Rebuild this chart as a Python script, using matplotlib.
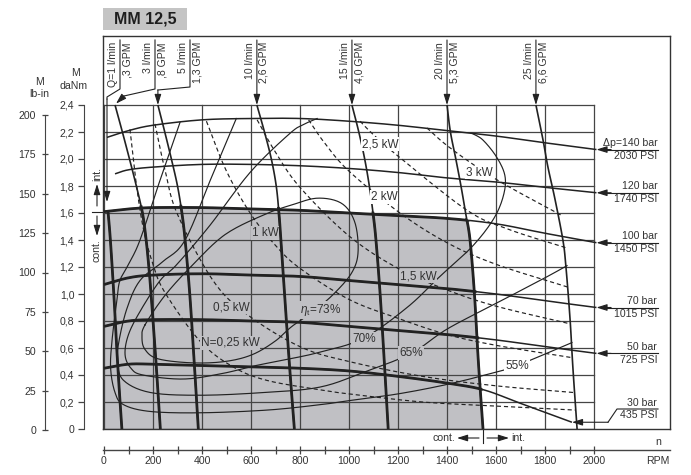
import numpy as np
import matplotlib
matplotlib.use("Agg")
import matplotlib.pyplot as plt
from matplotlib.patches import Polygon, Rectangle
from matplotlib.path import Path

plt.rcParams['font.family'] = ['Liberation Sans', 'DejaVu Sans']
plt.rcParams['mathtext.fontset'] = 'custom'
plt.rcParams['mathtext.rm'] = 'Liberation Sans'
plt.rcParams['mathtext.it'] = 'Liberation Sans:italic'

# ---------------- values ----------------
TITLE = "MM 12,5"
GRID_RPM = [0, 200, 400, 600, 800, 1000, 1200, 1400, 1600, 1800, 2000]
GRID_DANM = [0, 0.2, 0.4, 0.6, 0.8, 1.0, 1.2, 1.4, 1.6, 1.8, 2.0, 2.2, 2.4]
X_TICKS = [0, 200, 400, 600, 800, 1000, 1200, 1400, 1600, 1800, 2000]
X_MINOR = [100, 300, 500, 700, 900, 1100, 1300, 1500, 1700, 1900]
X_LABELS = ["0", "200", "400", "600", "800", "1000", "1200", "1400", "1600", "1800", "2000"]
DANM_LABELS = ["0", "0,2", "0,4", "0,6", "0,8", "1,0", "1,2", "1,4", "1,6", "1,8", "2,0", "2,2", "2,4"]
LBIN_TICKS = [0, 25, 50, 75, 100, 125, 150, 175, 200]
LBIN_LABELS = ["0", "25", "50", "75", "100", "125", "150", "175", "200"]

# pressure curves (torque vs speed)
P140_RPM = [12, 100, 200, 400, 600, 800, 1000, 1200, 1400, 1600, 1800, 2010]
P140_M = [2.16, 2.21, 2.25, 2.29, 2.30, 2.30, 2.28, 2.25, 2.21, 2.17, 2.12, 2.07]
P120_RPM = [45, 100, 200, 400, 600, 800, 1000, 1200, 1400, 1600, 1800, 2010]
P120_M = [1.89, 1.92, 1.94, 1.96, 1.96, 1.95, 1.93, 1.90, 1.86, 1.83, 1.79, 1.75]
P100_RPM = [0, 100, 200, 400, 600, 800, 1000, 1200, 1400, 1600, 1800, 2010]
P100_M = [1.61, 1.63, 1.64, 1.64, 1.63, 1.62, 1.60, 1.58, 1.56, 1.52, 1.45, 1.38]
P70_RPM = [0, 100, 200, 400, 600, 800, 1000, 1200, 1400, 1600, 1800, 2010]
P70_M = [1.07, 1.12, 1.14, 1.15, 1.14, 1.13, 1.10, 1.07, 1.04, 1.00, 0.95, 0.90]
P50_RPM = [0, 100, 200, 400, 600, 800, 1000, 1200, 1400, 1600, 1800, 2010]
P50_M = [0.76, 0.80, 0.81, 0.81, 0.80, 0.79, 0.76, 0.73, 0.70, 0.66, 0.61, 0.56]
P30_RPM = [0, 100, 200, 400, 600, 800, 1000, 1200, 1400, 1550, 1700, 1910]
P30_M = [0.45, 0.48, 0.48, 0.47, 0.46, 0.45, 0.43, 0.39, 0.34, 0.29, 0.19, 0.05]
PRESS_BAR = ["\u0394p=140 bar", "120 bar", "100 bar", "70 bar", "50 bar", "30 bar"]
PRESS_PSI = ["2030 PSI", "1740 PSI", "1450 PSI", "1015 PSI", "725 PSI", "435 PSI"]

# flow curves (speed vs torque)
Q1_M = [1.62, 1.40, 1.00, 0.60, 0.30, 0.00]
Q1_RPM = [16, 26, 40, 52, 62, 73]
Q3_M = [2.40, 2.20, 2.00, 1.80, 1.60, 1.40, 1.20, 1.00, 0.50, 0.00]
Q3_RPM = [45, 75, 104, 132, 157, 172, 183, 192, 212, 230]
Q5_M = [2.40, 2.20, 2.00, 1.80, 1.60, 1.40, 1.00, 0.50, 0.00]
Q5_RPM = [220, 248, 275, 300, 318, 331, 350, 368, 385]
Q10_M = [2.40, 2.20, 2.00, 1.80, 1.60, 1.40, 1.00, 0.50, 0.00]
Q10_RPM = [624, 655, 683, 703, 714, 722, 737, 756, 777]
Q15_M = [2.40, 2.20, 2.00, 1.80, 1.60, 1.40, 1.00, 0.50, 0.00]
Q15_RPM = [1012, 1040, 1064, 1083, 1098, 1110, 1127, 1144, 1160]
Q20_M = [2.40, 2.20, 2.00, 1.80, 1.60, 1.40, 1.00, 0.50, 0.00]
Q20_RPM = [1400, 1414, 1436, 1457, 1476, 1494, 1512, 1528, 1547]
Q25_M = [2.40, 2.14, 1.94, 1.70, 1.40, 1.21, 0.82, 0.45, 0.00]
Q25_RPM = [1763, 1792, 1812, 1841, 1873, 1885, 1902, 1914, 1931]
FLOW_LPM = ["Q=1 l/min", "3 l/min", "5 l/min", "10 l/min", "15 l/min", "20 l/min", "25 l/min"]
FLOW_GPM = [",3 GPM", ",8 GPM", "1,3 GPM", "2,6 GPM", "4,0 GPM", "5,3 GPM", "6,6 GPM"]

# power curves (dashed)
N025_RPM = [106, 130, 160, 200, 249, 392, 527, 665, 882, 1000, 1300, 1600, 1925]
N025_M = [2.22, 1.84, 1.49, 1.22, 1.01, 0.65, 0.46, 0.36, 0.29, 0.26, 0.20, 0.17, 0.14]
N05_RPM = [208, 250, 300, 445, 583, 800, 1000, 1300, 1600, 1918]
N05_M = [2.26, 1.91, 1.59, 1.10, 0.85, 0.61, 0.50, 0.39, 0.32, 0.27]
N1_RPM = [418, 500, 600, 700, 800, 1000, 1200, 1400, 1600, 1905]
N1_M = [2.28, 1.91, 1.59, 1.36, 1.19, 0.96, 0.82, 0.70, 0.62, 0.53]
N15_RPM = [625, 700, 800, 1000, 1200, 1400, 1600, 1900]
N15_M = [2.29, 2.05, 1.79, 1.43, 1.19, 1.03, 0.91, 0.78]
N2_RPM = [835, 900, 1000, 1208, 1400, 1600, 1895]
N2_M = [2.29, 2.12, 1.91, 1.60, 1.38, 1.22, 1.05]
N25_RPM = [1045, 1100, 1208, 1482, 1650, 1890]
N25_M = [2.28, 2.18, 2.01, 1.62, 1.48, 1.34]
N3_RPM = [1318, 1400, 1531, 1657, 1870]
N3_M = [2.23, 2.10, 1.93, 1.79, 1.58]
POWER_LABELS = ["N=0,25 kW", "0,5 kW", "1 kW", "1,5 kW", "2 kW", "2,5 kW", "3 kW"]
POWER_LABEL_RPM = [514, 518, 657, 1282, 1143, 1127, 1531]
POWER_LABEL_M = [0.64, 0.90, 1.45, 1.13, 1.72, 2.11, 1.90]

# total efficiency curves
E73_RPM = [167, 249, 359, 494, 657, 767, 873, 971, 1024, 1037, 1012, 943, 861, 767,
           698, 604, 494, 359, 220, 167, 155]
E73_M = [0.77, 0.99, 1.21, 1.44, 1.59, 1.66, 1.71, 1.67, 1.53, 1.31, 1.16, 1.01, 0.88, 0.76,
         0.65, 0.55, 0.50, 0.49, 0.52, 0.59, 0.68]
E70_RPM = [870, 820, 759, 596, 433, 298, 229, 150, 100, 86, 110, 159, 322, 480, 620, 760,
           882, 1057, 1237, 1371, 1502, 1588, 1629, 1637, 1604, 1547, 1502]
E70_M = [2.30, 2.26, 2.19, 1.90, 1.51, 1.22, 1.10, 0.88, 0.70, 0.55, 0.45, 0.40, 0.37, 0.41,
         0.47, 0.52, 0.57, 0.67, 0.90, 1.13, 1.35, 1.55, 1.72, 1.87, 2.01, 2.14, 2.19]
E65_RPM = [540, 440, 331, 240, 147, 95, 62, 55, 80, 190, 392, 650, 880, 1060, 1253, 1400,
           1600, 1800, 1890]
E65_M = [2.30, 1.87, 1.40, 1.24, 1.10, 0.90, 0.66, 0.50, 0.36, 0.27, 0.25, 0.27, 0.31, 0.42,
         0.56, 0.74, 0.93, 1.12, 1.21]
E55_RPM = [310, 230, 147, 100, 65, 53, 33, 27, 45, 80, 188, 392, 665, 882, 1000, 1200, 1400,
           1576, 1686, 1910]
E55_M = [2.27, 1.85, 1.40, 1.22, 1.10, 0.96, 0.66, 0.45, 0.27, 0.18, 0.13, 0.12, 0.14, 0.18,
         0.21, 0.26, 0.33, 0.41, 0.47, 0.64]
EFF_LABELS = [r"$\eta_{\rm t}$=73%", "70%", "65%", "55%"]
EFF_LABEL_RPM = [882, 1062, 1253, 1686]
EFF_LABEL_M = [0.88, 0.67, 0.56, 0.47]

# ---------------- layout helpers (pixels of the 691x475 canvas) ----------------
W, H = 691, 475
PX_PER_RPM = 0.245
PX_PER_DANM = 135.0
X_PX0, Y_PX0 = 104, 429      # pixel of (0 rpm, 0 daNm)

def fx(px):
    return px / W

def fy(py):
    return 1 - py / H

def rpm_at(px):
    return (px - X_PX0) / PX_PER_RPM

def m_at(py):
    return (Y_PX0 - py) / PX_PER_DANM

def smooth(x, y, n=14, closed=False):
    P = np.column_stack([x, y]).astype(float)
    if closed:
        P = np.vstack([P[-1], P, P[0], P[1]])
    else:
        P = np.vstack([2 * P[0] - P[1], P, 2 * P[-1] - P[-2]])
    t = np.linspace(0, 1, n, endpoint=False)[:, None]
    out = []
    for i in range(1, len(P) - 2):
        p0, p1, p2, p3 = P[i - 1], P[i], P[i + 1], P[i + 2]
        seg = 0.5 * (2 * p1 + (-p0 + p2) * t + (2 * p0 - 5 * p1 + 4 * p2 - p3) * t ** 2
                     + (-p0 + 3 * p1 - 3 * p2 + p3) * t ** 3)
        out.append(seg)
    out.append(P[-2][None, :])
    S = np.vstack(out)
    return S[:, 0], S[:, 1]

INK = '#222222'
TXT = '#333333'
GRAY = '#c0c0c4'
GRID_C = '#454545'

fig = plt.figure(figsize=(W / 100, H / 100), dpi=100)
ax = fig.add_axes([fx(103), fy(429), fx(670) - fx(103), fy(36) - fy(429)])
ax.set_xlim(rpm_at(103), rpm_at(670))
ax.set_ylim(0, m_at(36))
ax.set_xticks([])
ax.set_yticks([])
for s in ax.spines.values():
    s.set_linewidth(1.0)
    s.set_color('#333333')

# ---------------- continuous-operation region ----------------
tx, ty = smooth(P100_RPM, P100_M)
rx, ry = smooth(Q20_RPM, Q20_M)
q20_at = lambda m: np.interp(m, ry[::-1], rx[::-1])
p100_at = lambda r: np.interp(r, tx, ty)
top_in = tx < q20_at(ty)
right_in = ry < p100_at(rx)
gray_poly = np.vstack([[[0, 0]],
                       np.column_stack([tx[top_in], ty[top_in]]),
                       np.column_stack([rx[right_in], ry[right_in]]),
                       [[rx[-1], 0]]])
ax.add_patch(Polygon(gray_poly, closed=True, facecolor=GRAY, edgecolor='none', zorder=1))
gray_path = Path(gray_poly)

clip_poly = np.vstack([[[-60, -0.1], [-60, ty[0] + 0.02]],
                       np.column_stack([tx[top_in], ty[top_in] + 0.02]),
                       np.column_stack([rx[right_in] + 9, ry[right_in]]),
                       [[rx[-1] + 9, -0.1]]])
clip_patch = Polygon(clip_poly, closed=True, transform=ax.transData)

# ---------------- grid ----------------
for g in GRID_RPM:
    ax.plot([g, g], [0, GRID_DANM[-1]], color=GRID_C, lw=0.9, zorder=2)
for g in GRID_DANM:
    ax.plot([GRID_RPM[0], GRID_RPM[-1]], [g, g], color=GRID_C, lw=0.9, zorder=2)

# ---------------- power (dashed) ----------------
POWER = [(N025_RPM, N025_M), (N05_RPM, N05_M), (N1_RPM, N1_M), (N15_RPM, N15_M),
         (N2_RPM, N2_M), (N25_RPM, N25_M), (N3_RPM, N3_M)]
for r, m in POWER:
    sx, sy = smooth(r, m)
    ax.plot(sx, sy, color=INK, lw=0.85, ls=(0, (3.5, 2.5)), zorder=3)

# ---------------- efficiency ----------------
EFF = [(E73_RPM, E73_M, True), (E70_RPM, E70_M, False), (E65_RPM, E65_M, False),
       (E55_RPM, E55_M, False)]
for r, m, closed in EFF:
    sx, sy = smooth(r, m, closed=closed)
    ax.plot(sx, sy, color=INK, lw=0.85, zorder=3)

# ---------------- pressure and flow curves ----------------
PRESSURE = [(P140_RPM, P140_M), (P120_RPM, P120_M), (P100_RPM, P100_M),
            (P70_RPM, P70_M), (P50_RPM, P50_M), (P30_RPM, P30_M)]
FLOW = [(Q1_RPM, Q1_M), (Q3_RPM, Q3_M), (Q5_RPM, Q5_M), (Q10_RPM, Q10_M),
        (Q15_RPM, Q15_M), (Q20_RPM, Q20_M), (Q25_RPM, Q25_M)]
for r, m in PRESSURE:
    sx, sy = smooth(r, m)
    ax.plot(sx, sy, color=INK, lw=1.1, zorder=4, solid_capstyle='butt')
    ln, = ax.plot(sx, sy, color=INK, lw=2.0, zorder=4, solid_capstyle='butt')
    ln.set_clip_path(clip_patch)
for r, m in FLOW:
    sx, sy = smooth(r, m)
    ax.plot(sx, sy, color=INK, lw=1.2, zorder=4, solid_capstyle='butt')
    ln, = ax.plot(sx, sy, color=INK, lw=2.0, zorder=4, solid_capstyle='butt')
    ln.set_clip_path(clip_patch)

ARROW = dict(arrowstyle='-|>,head_length=0.7,head_width=0.22', color=INK, lw=0.8,
             mutation_scale=9, shrinkA=0, shrinkB=0)

# ---------------- curve labels ----------------
def bg_of(x, y):
    return GRAY if gray_path.contains_point((x, y)) else 'white'

for t, x, y in zip(POWER_LABELS + EFF_LABELS, POWER_LABEL_RPM + EFF_LABEL_RPM,
                   POWER_LABEL_M + EFF_LABEL_M):
    ax.text(x, y, t, fontsize=8.5, color=TXT, ha='center', va='center', zorder=6,
            bbox=dict(boxstyle='square,pad=0.08', fc=bg_of(x, y), ec='none'))

# ---------------- flow labels and leaders ----------------
y_top = m_at(40)
y_txt = m_at(42)
y_bend = m_at(89)
lead_x = [rpm_at(120), rpm_at(155), rpm_at(190)] + [f[0][0] for f in FLOW[3:]]
for i, (lpm, gpm, lx) in enumerate(zip(FLOW_LPM, FLOW_GPM, lead_x)):
    ax.annotate(lpm, (lx, y_txt), xytext=(-1.5, 0), textcoords='offset points',
                rotation=90, ha='right', va='top', fontsize=7.6, color=TXT)
    ax.annotate(gpm, (lx, y_txt), xytext=(1.5, 0), textcoords='offset points',
                rotation=90, ha='left', va='top', fontsize=7.6, color=TXT)
    fr, fm = FLOW[i]
    if i == 0:
        tipx, tipy = rpm_at(107), m_at(202)
        ax.plot([lx, lx, tipx, tipx], [y_top, y_bend, m_at(97), m_at(99)], color=INK, lw=0.8)
        ax.annotate('', xy=(tipx, tipy), xytext=(tipx, m_at(99)), arrowprops=ARROW)
    elif i == 1:
        ax.plot([lx, lx, rpm_at(124)], [y_top, y_bend, m_at(96)], color=INK, lw=0.8)
        ax.annotate('', xy=(fr[0] + 4, fm[0] + 0.01), xytext=(rpm_at(124), m_at(96)),
                    arrowprops=ARROW)
    elif i == 2:
        ax.plot([lx, lx, fr[0]], [y_top, m_at(87), m_at(90)], color=INK, lw=0.8)
        ax.annotate('', xy=(fr[0], fm[0]), xytext=(fr[0], m_at(90)), arrowprops=ARROW)
    else:
        ax.annotate('', xy=(lx, fm[0]), xytext=(lx, y_top), arrowprops=ARROW)

# ---------------- pressure labels and leaders ----------------
x_lab = rpm_at(658)
for i, (bar, psi) in enumerate(zip(PRESS_BAR, PRESS_PSI)):
    pr, pm = PRESSURE[i]
    tip = (pr[-1], pm[-1])
    if i < 5:
        ly = pm[-1]
        ax.plot([tip[0] + 20, x_lab], [ly, ly], color=INK, lw=0.8)
        ax.annotate('', xy=tip, xytext=(tip[0] + 60, ly), arrowprops=ARROW)
    else:
        ly = m_at(409)
        k1 = rpm_at(608)
        k2 = rpm_at(617)
        ax.plot([k1, k2, x_lab], [tip[1], ly, ly], color=INK, lw=0.8)
        ax.annotate('', xy=tip, xytext=(k1, tip[1]), arrowprops=ARROW)
    ax.annotate(bar, (x_lab, ly), xytext=(-0.5, 1.0), textcoords='offset points',
                ha='right', va='bottom', fontsize=7.6, color=TXT)
    ax.annotate(psi, (x_lab, ly), xytext=(-0.5, -0.8), textcoords='offset points',
                ha='right', va='top', fontsize=7.6, color=TXT)

# ---------------- int./cont. markers ----------------
xm = rpm_at(97)
ax.plot([rpm_at(92), rpm_at(103)], [P100_M[0], P100_M[0]], color=INK, lw=0.8, clip_on=False)
ax.annotate('', xy=(xm, m_at(184)), xytext=(xm, m_at(206)), arrowprops=ARROW,
            annotation_clip=False)
ax.annotate('', xy=(xm, m_at(236)), xytext=(xm, m_at(216)), arrowprops=ARROW,
            annotation_clip=False)
ax.text(xm, m_at(181), "int.", rotation=90, ha='center', va='bottom', fontsize=7.6,
        color=TXT, clip_on=False)
ax.text(xm, m_at(239), "cont.", rotation=90, ha='center', va='top', fontsize=7.6,
        color=TXT, clip_on=False)

xc = Q20_RPM[-1]
ax.plot([xc, xc], [0, m_at(443)], color=INK, lw=0.8, clip_on=False)
yc = m_at(438)
ax.annotate('', xy=(rpm_at(457), yc), xytext=(rpm_at(479), yc), arrowprops=ARROW,
            annotation_clip=False)
ax.annotate('', xy=(rpm_at(509), yc), xytext=(rpm_at(487), yc), arrowprops=ARROW,
            annotation_clip=False)
ax.text(rpm_at(455), yc, "cont.", ha='right', va='center', fontsize=7.6, color=TXT,
        clip_on=False)
ax.text(rpm_at(511), yc, "int.", ha='left', va='center', fontsize=7.6, color=TXT,
        clip_on=False)

# ---------------- speed axis ----------------
axx = fig.add_axes([fx(103), fy(450), fx(670) - fx(103), 0.0005])
axx.set_xlim(rpm_at(103), rpm_at(670))
axx.patch.set_alpha(0)
for k in ['top', 'left', 'right']:
    axx.spines[k].set_visible(False)
axx.spines['bottom'].set_color('#444444')
axx.spines['bottom'].set_linewidth(1.0)
axx.set_yticks([])
axx.set_xticks(X_TICKS)
axx.set_xticklabels(X_LABELS)
axx.set_xticks(X_MINOR, minor=True)
axx.tick_params(axis='x', which='both', direction='inout', length=6, width=0.9,
                color='#444444', labelsize=7.6, labelcolor=TXT, pad=1.5)
fig.text(fx(658), fy(442), "n", ha='center', va='center', fontsize=7.6, color=TXT)
fig.text(fx(658), fy(461), "RPM", ha='center', va='center', fontsize=7.6, color=TXT)

# ---------------- torque axes ----------------
axd = fig.add_axes([fx(84), fy(429), 0.0005, fy(105) - fy(429)])
axd.set_ylim(0, GRID_DANM[-1])
axd.patch.set_alpha(0)
for k in ['top', 'bottom', 'right']:
    axd.spines[k].set_visible(False)
axd.spines['left'].set_color('#444444')
axd.set_xticks([])
axd.set_yticks(GRID_DANM)
axd.set_yticklabels(DANM_LABELS)
axd.tick_params(axis='y', direction='out', length=4, width=0.9, color='#444444',
                labelsize=7.6, labelcolor=TXT, pad=3)

axl = fig.add_axes([fx(45), fy(430), 0.0005, fy(115) - fy(430)])
axl.set_ylim(0, LBIN_TICKS[-1])
axl.patch.set_alpha(0)
for k in ['top', 'bottom', 'right']:
    axl.spines[k].set_visible(False)
axl.spines['left'].set_color('#444444')
axl.set_xticks([])
axl.set_yticks(LBIN_TICKS)
axl.set_yticklabels(LBIN_LABELS)
axl.tick_params(axis='y', direction='inout', length=5, width=0.9, color='#444444',
                labelsize=7.6, labelcolor=TXT, pad=4)

fig.text(fx(75), fy(73), "M", ha='center', va='center', fontsize=7.6, color=TXT)
fig.text(fx(74), fy(86), "daNm", ha='center', va='center', fontsize=7.6, color=TXT)
fig.text(fx(40), fy(82), "M", ha='center', va='center', fontsize=7.6, color=TXT)
fig.text(fx(39), fy(94), "lb-in", ha='center', va='center', fontsize=7.6, color=TXT)

# ---------------- title box ----------------
fig.patches.append(Rectangle((fx(103), fy(30)), fx(187) - fx(103), fy(8) - fy(30),
                             transform=fig.transFigure, facecolor='#c4c4c4',
                             edgecolor='none', zorder=0))
fig.text(fx(145), fy(19), TITLE, ha='center', va='center', fontsize=11.5,
         fontweight='bold', color='#1e1e1e')

fig.savefig("out.png", dpi=100)
